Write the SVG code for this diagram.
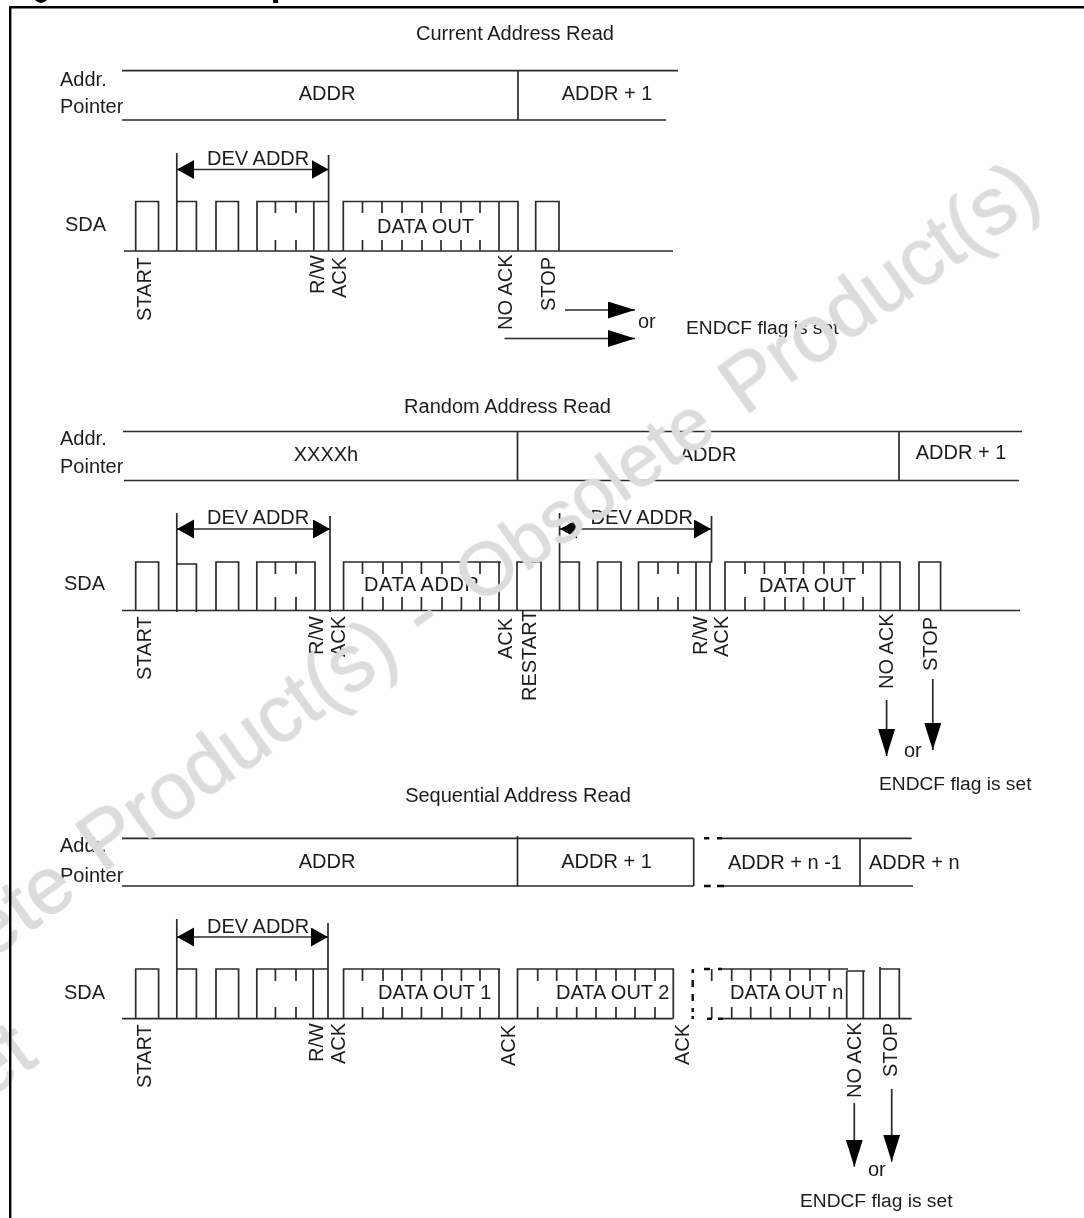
<svg xmlns="http://www.w3.org/2000/svg" width="1084" height="1218" viewBox="0 0 1084 1218">
<style>
text{font-family:"Liberation Sans",Arial,sans-serif;font-size:20px;fill:#1c1c1c}
.l{fill:none;stroke:#2a2a2a;stroke-width:1.7}
.d{fill:none;stroke:#111;stroke-width:2.4}
.e{font-size:19.2px}
.m{text-anchor:middle}
.w{font-size:80px;fill:#dcdcdc;stroke:#dcdcdc;stroke-width:1}
.n{font-size:74px}
</style>
<defs>
<filter id="soft" x="0" y="0" width="1" height="1"><feGaussianBlur stdDeviation="0.45"/></filter>
<marker id="big" markerUnits="userSpaceOnUse" markerWidth="28" markerHeight="18" refX="27" refY="8.5" orient="auto"><path d="M0 0L27 8.5L0 17Z" fill="#000"/></marker>
<marker id="dev" markerUnits="userSpaceOnUse" markerWidth="18" markerHeight="20" refX="17" refY="9.5" orient="auto-start-reverse"><path d="M0 0L17 9.5L0 19Z" fill="#000"/></marker>
</defs>
<rect width="1084" height="1218" fill="#fff"/>
<g id="title-remnant" fill="#000"><path d="M35 0H47Q44 3 41 3Q38 3 35 0Z"/><rect x="273" y="0" width="5" height="3"/></g>
<g id="diagram" filter="url(#soft)">
<g id="current-address-read">
<text x="515" y="40" class="m">Current Address Read</text>
<text x="60" y="86">Addr.</text><text x="60" y="113">Pointer</text>
<path class="l" d="M122 70.7H678M122 120H666M518 70.7V120"/>
<text x="327" y="100" class="m">ADDR</text><text x="607" y="100" class="m">ADDR + 1</text>
<text x="207" y="165">DEV ADDR</text>
<text x="65" y="231">SDA</text>
<path class="l" d="M124 251H673M176.8 153V251M328.6 155V251M135.7 251V201.5H158.5V251M176.8 201.5H196.4V251M216 251V201.5H238.4V251M257 251V201.5H328.6M313.8 201.5V251M275.4 201.5V213M296 201.5V213M275.4 240V251M296 240V251M343.3 251V201.5H518V251M499 201.5V251M362.5 201.5V213M382 201.5V213M402 201.5V213M422 201.5V213M441 201.5V213M461 201.5V213M480 201.5V213M362.5 240V251M382 240V251M402 240V251M422 240V251M441 240V251M461 240V251M480 240V251M535.7 251V201.5H559V251"/>
<path class="l" d="M177 169.5H328.6" marker-start="url(#dev)" marker-end="url(#dev)"/>
<text x="377" y="233">DATA OUT</text>
<text transform="translate(151,321) rotate(-90)">START</text>
<text transform="translate(324,294) rotate(-90)">R/W</text>
<text transform="translate(346,298) rotate(-90)">ACK</text>
<text transform="translate(512,330) rotate(-90)">NO ACK</text>
<text transform="translate(555,311) rotate(-90)">STOP</text>
<path class="l" d="M565 310H635" marker-end="url(#big)"/>
<path class="l" d="M504.5 338.5H635" marker-end="url(#big)"/>
<text x="638" y="328">or</text>
<text x="686" y="334" class="e">ENDCF flag is set</text>
</g>
<g id="random-address-read">
<text x="507.5" y="413" class="m">Random Address Read</text>
<text x="60" y="445">Addr.</text><text x="60" y="473">Pointer</text>
<path class="l" d="M123 431.5H1022M124 480.5H1019M517.5 431.5V480.5M899 431.5V480.5"/>
<text x="326" y="461" class="m">XXXXh</text><text x="708" y="461" class="m">ADDR</text><text x="961" y="459" class="m">ADDR + 1</text>
<text x="207" y="524">DEV ADDR</text><text x="590.6" y="524">DEV ADDR</text>
<text x="64" y="590">SDA</text>
<path class="l" d="M122 610.5H1020M135.7 610.5V562H158.6V610.5M176.8 513V612M176.8 564H196.4V612M216 610.5V562H238.6V610.5M256.8 610.5V562H315V610.5M275.4 562V574M296 562V574M275.4 597V610.5M296 597V610.5M330 516V612M343.6 610.5V562H501M499 562V610.5M362.5 562V574M383 562V574M402 562V574M421.4 562V574M442 562V574M461.4 562V574M480 562V574M362.5 597V610.5M383 597V610.5M402 597V610.5M421.4 597V610.5M442 597V610.5M461.4 597V610.5M480 597V610.5M517 610.5V562H541V610.5M559.6 513V610.5M559.6 562H579.3V610.5M597.6 610.5V562H621V610.5M638.5 610.5V562H711.5V516M710 562V610.5M696 562V610.5M658 562V574M678 562V574M658 597V610.5M678 597V610.5M725 610.5V562H900V610.5M880.6 562V610.5M745 562V574M764.4 562V574M785 562V574M803.5 562V574M824 562V574M843.4 562V574M863 562V574M745 597V610.5M764.4 597V610.5M785 597V610.5M803.5 597V610.5M824 597V610.5M843.4 597V610.5M863 597V610.5M919 610.5V562H940.6V610.5"/>
<path class="l" d="M177 529H330" marker-start="url(#dev)" marker-end="url(#dev)"/>
<path class="l" d="M560 529H711" marker-start="url(#dev)" marker-end="url(#dev)"/>
<text x="364" y="591" textLength="121">DATA ADDR.</text><text x="759" y="592">DATA OUT</text>
<text transform="translate(151,680) rotate(-90)">START</text>
<text transform="translate(323,655) rotate(-90)">R/W</text>
<text transform="translate(345,657) rotate(-90)">ACK</text>
<text transform="translate(512,659) rotate(-90)">ACK</text>
<text transform="translate(536,701) rotate(-90)">RESTART</text>
<text transform="translate(707,655) rotate(-90)">R/W</text>
<text transform="translate(728,657) rotate(-90)">ACK</text>
<text transform="translate(893,689) rotate(-90)">NO ACK</text>
<text transform="translate(937,671) rotate(-90)">STOP</text>
<path class="l" d="M886.6 700V756" marker-end="url(#big)"/>
<path class="l" d="M932.8 679V750" marker-end="url(#big)"/>
<text x="904" y="757">or</text>
<text x="879" y="790" class="e">ENDCF flag is set</text>
</g>
<g id="sequential-address-read">
<text x="518" y="802" class="m">Sequential Address Read</text>
<text x="60" y="852">Addr.</text><text x="60" y="882">Pointer</text>
<path class="l" d="M122 838.3H693.5M122 886H693.5M693.7 838.3V886M517.5 836V886M722 838.3H911.7M724 886H913M860 838.3V886"/>
<path class="d" d="M704 838.3H709.3M717 838.3H722M704 886H710.7M717 886H724"/>
<text x="327" y="868" class="m">ADDR</text><text x="606.5" y="868" class="m">ADDR + 1</text><text x="728" y="869">ADDR + n -1</text><text x="869" y="869">ADDR + n</text>
<text x="207" y="933">DEV ADDR</text>
<text x="64" y="999">SDA</text>
<text x="378" y="999">DATA OUT 1</text><text x="556" y="999">DATA OUT 2</text><text x="730" y="999">DATA OUT n</text>
<path class="l" d="M122 1018.7H672.7M722 1018.7H911.7M135.7 1018.7V969H158.6V1018.7M176.8 919V1018.7M176.8 969H196.4V1018.7M216 1018.7V969H238.6V1018.7M256.8 1018.7V969H328V1018.7M328 923V969M313.2 969V1018.7M275.4 969V981M296 969V981M275.4 1007V1018.7M296 1007V1018.7M343.6 1018.7V969H500M499 969V1018.7M362.5 969V981M383 969V981M402 969V981M421.4 969V981M442 969V981M461.4 969V981M480 969V981M362.5 1007V1018.7M383 1007V1018.7M402 1007V1018.7M421.4 1007V1018.7M442 1007V1018.7M461.4 1007V1018.7M480 1007V1018.7M517.5 1018.7V969H673.3V1018.7M537.7 969V981M556.7 969V981M576.7 969V981M596 969V981M616 969V981M635 969V981M655 969V981M537.7 1007V1018.7M556.7 1007V1018.7M576.7 1007V1018.7M596 1007V1018.7M616 1007V1018.7M635 1007V1018.7M655 1007V1018.7M711.7 969V981M711.7 1007V1018.7M721.7 969H848M731.7 969V981M750.7 969V981M770.7 969V981M790 969V981M810 969V981M829.3 969V981M731.7 1007V1018.7M750.7 1007V1018.7M770.7 1007V1018.7M790 1007V1018.7M810 1007V1018.7M829.3 1007V1018.7M846.7 971V1018.7M846.7 971H865M863.3 971V1018.7M880 967V1018.7M880 969H899.3V1018.7"/>
<path class="d" d="M692.7 969V973M692.7 980V987M692.7 994V1001M692.7 1008V1012M692.7 1016V1019M704 969H710M707 1018.7H712M718 969H722M718 1018.7H723"/>
<path class="l" d="M177 937H328" marker-start="url(#dev)" marker-end="url(#dev)"/>
<text transform="translate(151,1088) rotate(-90)">START</text>
<text transform="translate(323,1062) rotate(-90)">R/W</text>
<text transform="translate(345,1064) rotate(-90)">ACK</text>
<text transform="translate(515,1066) rotate(-90)">ACK</text>
<text transform="translate(689,1065) rotate(-90)">ACK</text>
<text transform="translate(861,1098) rotate(-90)">NO ACK</text>
<text transform="translate(897,1077) rotate(-90)">STOP</text>
<path class="l" d="M854.3 1103V1166.7" marker-end="url(#big)"/>
<path class="l" d="M891.7 1089V1161.7" marker-end="url(#big)"/>
<text x="868" y="1176">or</text>
<text x="800" y="1207" class="e">ENDCF flag is set</text>
</g>
</g>
<g id="watermark">
<text class="w" transform="translate(744,416) rotate(-35.5)">Product(s)</text>
<text class="w n" transform="translate(478,606) rotate(-35.5)">Obsolete</text>
<text class="w" transform="translate(425,643) rotate(-35.5)">-</text>
<text class="w" transform="translate(102,873) rotate(-35.5)">Product(s)</text>
<text class="w" text-anchor="end" transform="translate(80,896) rotate(-35.5)">Obsolete</text>
<text class="w" text-anchor="end" transform="translate(40,1062) rotate(-35.5)">et</text>
</g>
<path id="frame" d="M10.2 1218V7.2H1084" fill="none" stroke="#000" stroke-width="2.4"/>
</svg>
